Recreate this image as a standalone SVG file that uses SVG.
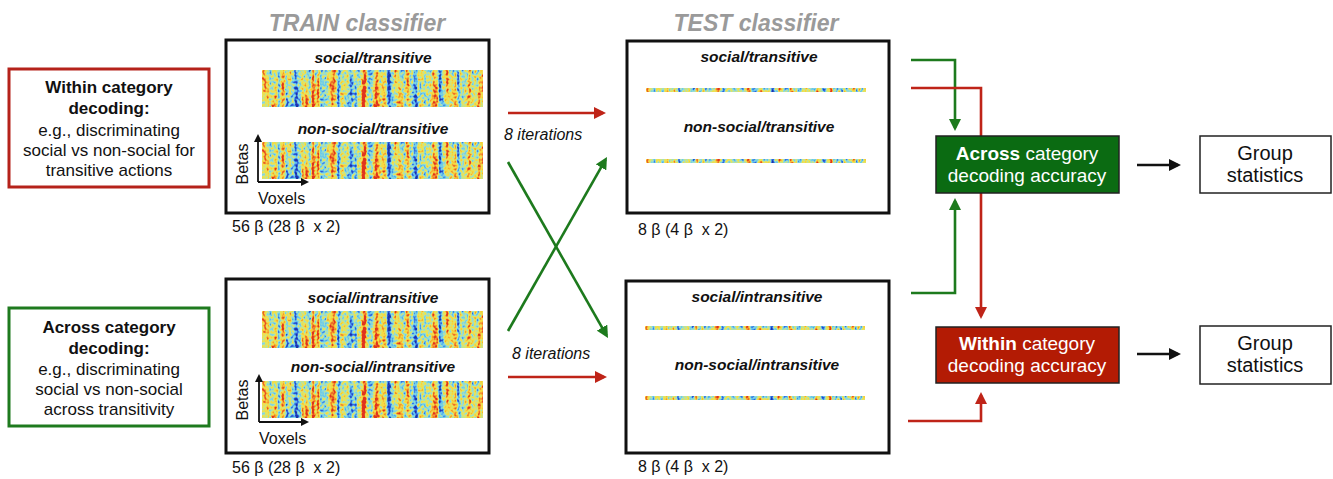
<svg xmlns="http://www.w3.org/2000/svg" xmlns:xlink="http://www.w3.org/1999/xlink" width="1333" height="479" viewBox="0 0 1333 479">
<style>
text{font-family:"Liberation Sans",Arial,Helvetica,sans-serif;fill:#111}
.lbl{font-size:17px;text-anchor:middle}
.b{font-weight:bold}
.title{font-size:23px;font-weight:bold;font-style:italic;fill:#9a9a9a;text-anchor:middle}
.cond{font-size:15.5px;font-weight:bold;font-style:italic;text-anchor:middle}
.small{font-size:16px}
.it{font-size:16px;font-style:italic}
.ax{font-size:16px}
.box{fill:#fff;stroke:#111;stroke-width:3}
.wht{fill:#fff;font-size:19px;text-anchor:middle}
.grp{font-size:20px;text-anchor:middle}
.red{stroke:#bf2418;stroke-width:2.6;fill:none}
.grn{stroke:#1d7a1d;stroke-width:2.6;fill:none}
.blk{stroke:#111;stroke-width:2.6;fill:none}
</style>
<defs>
<marker id="mR" viewBox="0 0 12 12" refX="9" refY="6" markerWidth="12" markerHeight="12" markerUnits="userSpaceOnUse" orient="auto"><path d="M0,0 L12,6 L0,12 z" fill="#bf2418"/></marker>
<marker id="mG" viewBox="0 0 12 12" refX="9" refY="6" markerWidth="12" markerHeight="12" markerUnits="userSpaceOnUse" orient="auto"><path d="M0,0 L12,6 L0,12 z" fill="#1d7a1d"/></marker>
<marker id="mK" viewBox="0 0 12 12" refX="9" refY="6" markerWidth="12" markerHeight="12" markerUnits="userSpaceOnUse" orient="auto"><path d="M0,0 L12,6 L0,12 z" fill="#111"/></marker>
<marker id="mS" viewBox="0 0 8 8" refX="6" refY="4" markerWidth="8" markerHeight="8" markerUnits="userSpaceOnUse" orient="auto"><path d="M0,0 L8,4 L0,8 z" fill="#111"/></marker>
<filter id="heat" x="0" y="0" width="1" height="1" color-interpolation-filters="sRGB">
<feTurbulence type="fractalNoise" baseFrequency="0.16 0.012" numOctaves="2" seed="7" result="a"/>
<feColorMatrix in="a" type="matrix" values="1 0 0 0 0 1 0 0 0 0 1 0 0 0 0 0 0 0 0 1" result="a2"/>
<feTurbulence type="fractalNoise" baseFrequency="0.4 0.35" numOctaves="1" seed="11" result="b"/>
<feColorMatrix in="b" type="matrix" values="0 1 0 0 0 0 1 0 0 0 0 1 0 0 0 0 0 0 0 1" result="b2"/>
<feComposite in="a2" in2="b2" operator="arithmetic" k2="0.65" k3="0.35" result="c"/>
<feComponentTransfer in="c" result="d">
<feFuncR type="linear" slope="2.9" intercept="-0.95"/>
<feFuncG type="linear" slope="2.9" intercept="-0.95"/>
<feFuncB type="linear" slope="2.9" intercept="-0.95"/>
</feComponentTransfer>
<feComponentTransfer in="d" result="e">
<feFuncR type="table" tableValues="0.12 0.2 0.4 0.6 0.88 0.97 0.95 0.88"/>
<feFuncG type="table" tableValues="0.2 0.4 0.78 0.87 0.9 0.85 0.55 0.2"/>
<feFuncB type="table" tableValues="0.65 0.88 0.93 0.82 0.4 0.25 0.18 0.12"/>
<feFuncA type="linear" slope="0" intercept="1"/>
</feComponentTransfer>
<feGaussianBlur in="e" stdDeviation="0.5"/>
</filter>
<rect id="hm" x="0" y="0" width="221" height="37" fill="#fff" filter="url(#heat)"/>
<rect id="strip" x="0" y="0" width="220" height="4" fill="#fff" filter="url(#heat)"/>
</defs>
<rect width="1333" height="479" fill="#fff"/>

<text class="title" x="357" y="31">TRAIN classifier</text>
<text class="title" x="756" y="31">TEST classifier</text>

<g id="connectors">
<line class="red" x1="508" y1="113" x2="603" y2="113" marker-end="url(#mR)"/>
<line class="grn" x1="508" y1="162" x2="606.5" y2="335.4" marker-end="url(#mG)"/>
<line class="grn" x1="508" y1="331" x2="605.5" y2="159.6" marker-end="url(#mG)"/>
<line class="red" x1="508" y1="377" x2="604" y2="377" marker-end="url(#mR)"/>
<path class="grn" d="M911,60 H955 V128" marker-end="url(#mG)"/>
<path class="red" d="M911,88 H981 V316" marker-end="url(#mR)"/>
<path class="grn" d="M911,293 H955 V201" marker-end="url(#mG)"/>
<path class="red" d="M908,421 H981 V395" marker-end="url(#mR)"/>
<line class="blk" x1="1137" y1="165" x2="1178" y2="165" marker-end="url(#mK)"/>
<line class="blk" x1="1137" y1="354" x2="1178" y2="354" marker-end="url(#mK)"/>
<text class="it" x="504" y="140">8 iterations</text>
<text class="it" x="512" y="359">8 iterations</text>
</g>

<g id="within-desc">
<rect x="9" y="69" width="200" height="118" fill="#fff" stroke="#b5221a" stroke-width="3"/>
<text class="lbl b" x="109" y="93">Within category</text>
<text class="lbl b" x="109" y="114">decoding:</text>
<text class="lbl" x="109" y="136">e.g., discriminating</text>
<text class="lbl" x="109" y="156">social vs non-social for</text>
<text class="lbl" x="109" y="176">transitive actions</text>
</g>

<g id="across-desc">
<rect x="9" y="308" width="200" height="118" fill="#fff" stroke="#1e7a1e" stroke-width="3"/>
<text class="lbl b" x="109" y="333">Across category</text>
<text class="lbl b" x="109" y="354">decoding:</text>
<text class="lbl" x="109" y="375">e.g., discriminating</text>
<text class="lbl" x="109" y="395">social vs non-social</text>
<text class="lbl" x="109" y="415">across transitivity</text>
</g>

<g id="train-transitive">
<rect class="box" x="226" y="40" width="263" height="173"/>
<text class="cond" x="373" y="63">social/transitive</text>
<use href="#hm" x="262" y="70"/>
<text class="cond" x="373" y="134">non-social/transitive</text>
<use href="#hm" x="262" y="142"/>
<line x1="258" y1="182" x2="258" y2="136" stroke="#111" stroke-width="1.8" marker-end="url(#mS)"/>
<line x1="258" y1="182" x2="307" y2="182" stroke="#111" stroke-width="1.8" marker-end="url(#mS)"/>
<text class="ax" transform="translate(248,164) rotate(-90)" text-anchor="middle">Betas</text>
<text class="ax" x="258" y="204">Voxels</text>
<text class="small" x="232" y="232">56 β (28 β&#160; x 2)</text>
</g>

<g id="train-intransitive">
<rect class="box" x="226" y="279" width="263" height="174"/>
<text class="cond" x="373" y="303">social/intransitive</text>
<use href="#hm" x="262" y="311"/>
<text class="cond" x="373" y="372">non-social/intransitive</text>
<use href="#hm" x="262" y="381"/>
<line x1="259" y1="422" x2="259" y2="376" stroke="#111" stroke-width="1.8" marker-end="url(#mS)"/>
<line x1="259" y1="422" x2="307" y2="422" stroke="#111" stroke-width="1.8" marker-end="url(#mS)"/>
<text class="ax" transform="translate(248,400) rotate(-90)" text-anchor="middle">Betas</text>
<text class="ax" x="259" y="444">Voxels</text>
<text class="small" x="232" y="473">56 β (28 β&#160; x 2)</text>
</g>

<g id="test-transitive">
<rect class="box" x="627" y="41" width="262" height="172"/>
<text class="cond" x="759" y="62">social/transitive</text>
<use href="#strip" x="646" y="88"/>
<text class="cond" x="759" y="132">non-social/transitive</text>
<use href="#strip" x="646" y="159"/>
<text class="small" x="638" y="235">8 β (4 β&#160; x 2)</text>
</g>

<g id="test-intransitive">
<rect class="box" x="626" y="281" width="263" height="172"/>
<text class="cond" x="757" y="302">social/intransitive</text>
<use href="#strip" x="645" y="326"/>
<text class="cond" x="757" y="370">non-social/intransitive</text>
<use href="#strip" x="645" y="396"/>
<text class="small" x="638" y="472">8 β (4 β&#160; x 2)</text>
</g>

<g id="across-accuracy">
<rect x="936" y="136" width="183" height="57" fill="#0b6b12" stroke="#222" stroke-width="1.5"/>
<text class="wht" x="1027" y="160"><tspan font-weight="bold">Across</tspan> category</text>
<text class="wht" x="1027" y="182">decoding accuracy</text>
</g>

<g id="within-accuracy">
<rect x="936" y="327" width="183" height="56" fill="#b31b04" stroke="#222" stroke-width="1.5"/>
<text class="wht" x="1027" y="350"><tspan font-weight="bold">Within</tspan> category</text>
<text class="wht" x="1027" y="372">decoding accuracy</text>
</g>

<g id="group-stats-1">
<rect x="1200" y="136" width="131" height="57" fill="#fff" stroke="#222" stroke-width="1.5"/>
<text class="grp" x="1265" y="160">Group</text>
<text class="grp" x="1265" y="182">statistics</text>
</g>

<g id="group-stats-2">
<rect x="1200" y="326" width="131" height="58" fill="#fff" stroke="#222" stroke-width="1.5"/>
<text class="grp" x="1265" y="350">Group</text>
<text class="grp" x="1265" y="372">statistics</text>
</g>
</svg>
